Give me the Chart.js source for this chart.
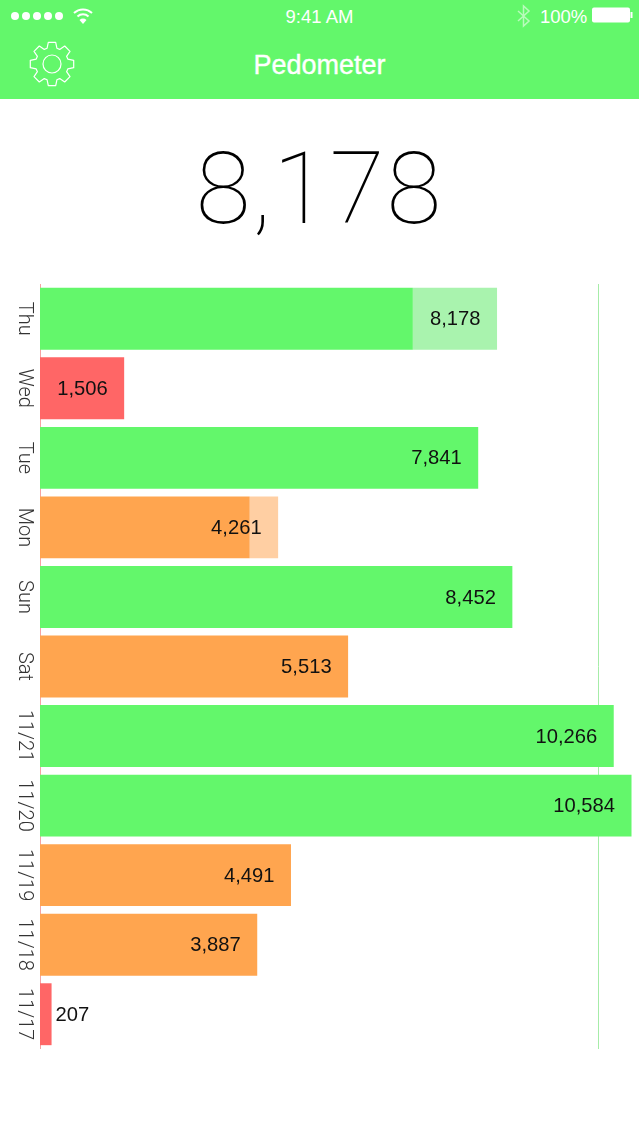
<!DOCTYPE html>
<html lang="en">

<head>
    <meta charset="UTF-8">
    <meta name="viewport" content="width=device-width, initial-scale=1.0">
    <title>Pedometer</title>
    <script src="https://cdn.jsdelivr.net/npm/chart.js"></script>
    <style>
        body {
            font-family: "Liberation Sans", Arial, sans-serif;
            margin: 0;
            width: 639px;
            height: 1136px;
            position: relative;
            overflow: hidden;
            background-color: #fff;
        }

        .header {
            position: absolute;
            left: 0;
            top: 0;
            width: 639px;
            height: 99px;
            background-color: #63f76b;
            color: #fff;
        }

        .header div,
        .header svg {
            position: absolute;
        }

        .clock {
            left: 0;
            width: 639px;
            top: 6px;
            text-align: center;
            font-size: 18.5px;
        }

        .percent {
            left: 540px;
            top: 6px;
            font-size: 18.5px;
        }

        .title {
            left: 0;
            width: 639px;
            top: 50px;
            text-align: center;
            font-size: 27px;
            -webkit-text-stroke: 0.4px #fff;
        }

        #total {
            position: absolute;
            left: 0;
            width: 639px;
            top: 131px;
            text-align: center;
            font-family: Roboto, sans-serif;
            font-weight: 100;
            font-size: 100px;
            letter-spacing: 2px;
            line-height: 116px;
            color: #000;
        }

        .container {
            position: absolute;
            left: 0;
            top: 284px;
            width: 639px;
            height: 765px;
        }
    </style>
</head>

<body>
    <div class="header">
        <svg style="left:0;top:0" width="110" height="32" fill="#fff">
            <circle cx="15" cy="16" r="4"></circle>
            <circle cx="26" cy="16" r="4"></circle>
            <circle cx="37" cy="16" r="4"></circle>
            <circle cx="48" cy="16" r="4"></circle>
            <circle cx="59" cy="16" r="4"></circle>
            <path d="M74 13 A13 13 0 0 1 92 13 M77.500 16.500 A8 8 0 0 1 88.500 16.500" fill="none" stroke="#fff" stroke-width="2"></path>
            <path d="M83 24 L79.500 20 A5 5 0 0 1 86.500 20 Z"></path>
        </svg>
        <div class="clock">9:41 AM</div>
        <svg style="left:515px;top:4px" width="18" height="24" fill="none" stroke="#b9fbbc" stroke-width="1.500">
            <path d="M3 7 L14 17 L8.500 22 L8.500 2 L14 7 L3 17"></path>
        </svg>
        <div class="percent">100%</div>
        <svg style="left:590px;top:6px" width="45" height="20" fill="#fff">
            <rect x="2" y="1.500" width="38" height="15" rx="2"></rect>
            <rect x="40.500" y="6" width="2" height="6"></rect>
        </svg>
        <svg id="gear" style="left:28px;top:40px" width="48" height="48" fill="none" stroke="#fff" stroke-width="1.200">
            <circle cx="24" cy="24" r="9"></circle>
        </svg>
        <div class="title">Pedometer</div>
    </div>
    <div id="total">8,178</div>
    <div class="container">
        <canvas id="stepsChart"></canvas>
    </div>

    <script>
        const days = ["Thu", "Wed", "Tue", "Mon", "Sun", "Sat", "11/21", "11/20", "11/19", "11/18", "11/17"];
        const stepLabels = ["8,178", "1,506", "7,841", "4,261", "8,452", "5,513", "10,266", "10,584", "4,491", "3,887", "207"];
        const stepTotals = [8178, 1506, 7841, 4261, 8452, 5513, 10266, 10584, 4491, 3887, 207];
        // solid part of the bar, the rest of the total is shown lighter
        const solidSteps = [6671, 1506, 7841, 3752, 8452, 5513, 10266, 10584, 4491, 3887, 207];
        const lightSteps = [1507, 0, 0, 509, 0, 0, 0, 0, 0, 0, 0];
        const goalSteps = 10000;
        const axisMax = 10718;

        const solidColors = ["#63f76b", "#ff6666", "#63f76b", "#ffa54f", "#63f76b", "#ffa54f", "#63f76b", "#63f76b", "#ffa54f", "#ffa54f", "#ff6666"];
        const lightColors = ["#a9f3ae", "#ffc0c0", "#a9f3ae", "#ffcfa3", "#a9f3ae", "#ffcfa3", "#a9f3ae", "#a9f3ae", "#ffcfa3", "#ffcfa3", "#ffc0c0"];

        // Icono del engranaje
        let gearPath = "";
        for (let i = 0; i < 8; i++) {
            const a = (i - 0.5) * Math.PI / 4 + Math.PI / 8;
            const pts = [[16.5, -0.30], [22, -0.17], [22, 0.17], [16.5, 0.30]];
            pts.forEach((p, j) => {
                const x = 24 + p[0] * Math.cos(a + p[1]);
                const y = 24 + p[0] * Math.sin(a + p[1]);
                gearPath += (i === 0 && j === 0 ? "M" : "L") + x.toFixed(1) + " " + y.toFixed(1) + " ";
            });
        }
        const gear = document.createElementNS("http://www.w3.org/2000/svg", "path");
        gear.setAttribute("d", gearPath + "Z");
        gear.setAttribute("stroke-linejoin", "round");
        document.getElementById("gear").appendChild(gear);

        const barText = {
            id: "barText",
            afterDatasetsDraw(chart) {
                const { ctx, scales } = chart;
                ctx.save();
                ctx.textBaseline = "middle";
                days.forEach((day, i) => {
                    const y = scales.y.getPixelForValue(i);

                    // etiqueta del valor
                    const end = scales.x.getPixelForValue(stepTotals[i]);
                    ctx.font = '20.2px "Liberation Sans"';
                    ctx.fillStyle = "#111";
                    if (stepTotals[i] < 1000) {
                        ctx.textAlign = "left";
                        ctx.fillText(stepLabels[i], end + 4, y + 1);
                    } else {
                        ctx.textAlign = "right";
                        ctx.fillText(stepLabels[i], end - 16.5, y + 1);
                    }

                    // dia, girado 90 grados
                    ctx.save();
                    ctx.translate(24, y);
                    ctx.rotate(Math.PI / 2);
                    ctx.textAlign = "center";
                    ctx.font = '300 20px Roboto';
                    ctx.fillStyle = "#333";
                    ctx.fillText(day, 0, 0);
                    ctx.restore();
                });
                ctx.restore();
            }
        };

        new Chart(document.getElementById("stepsChart").getContext("2d"), {
            type: "bar",
            data: {
                labels: days,
                datasets: [{
                    data: solidSteps,
                    backgroundColor: solidColors,
                    stack: "steps"
                }, {
                    data: lightSteps,
                    backgroundColor: lightColors,
                    stack: "steps"
                }]
            },
            options: {
                indexAxis: "y",
                responsive: true,
                maintainAspectRatio: false,
                animation: false,
                layout: { padding: { left: 40 } },
                barPercentage: 0.89,
                categoryPercentage: 1,
                plugins: {
                    legend: { display: false },
                    tooltip: { enabled: false }
                },
                scales: {
                    x: {
                        stacked: true,
                        min: 0,
                        max: axisMax,
                        afterBuildTicks(axis) {
                            axis.ticks = [{ value: goalSteps }];
                        },
                        ticks: { display: false },
                        border: { display: false },
                        grid: { color: "#a6eca8", lineWidth: 1, drawTicks: false }
                    },
                    y: {
                        stacked: true,
                        ticks: { display: false },
                        grid: { display: false, drawTicks: false },
                        border: { color: "#f5a3a3", width: 1 }
                    }
                }
            },
            plugins: [barText]
        });
    </script>
</body>

</html>
